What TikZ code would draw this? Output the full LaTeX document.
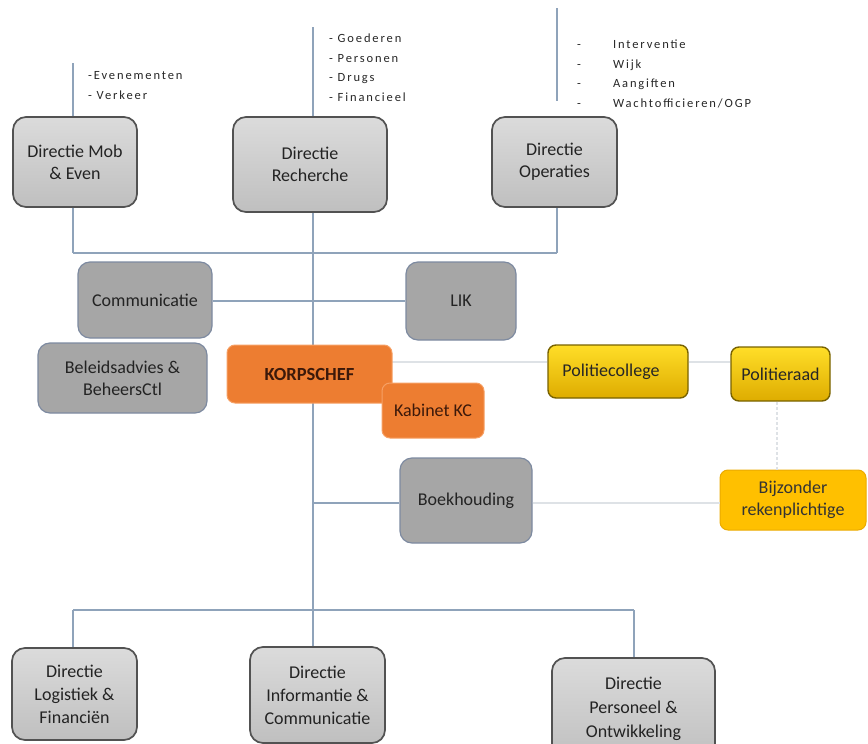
\documentclass[tikz,border=0pt]{standalone}
\usepackage{fontspec}
\setmainfont{Carlito}
\newfontfamily\listfont[LetterSpace=15]{Carlito}
\definecolor{conn}{RGB}{143,163,186}
\definecolor{lightconn}{RGB}{222,226,230}
\definecolor{graybox}{RGB}{166,166,166}
\definecolor{grayborder}{RGB}{125,138,160}
\definecolor{orangebox}{RGB}{237,125,49}
\definecolor{orangeborder}{RGB}{246,160,100}
\definecolor{orangetext}{RGB}{60,25,10}
\definecolor{yellowtop}{RGB}{255,222,40}
\definecolor{yellowbot}{RGB}{222,172,0}
\definecolor{yellowborder}{RGB}{120,98,0}
\definecolor{ambbox}{RGB}{255,192,0}
\definecolor{ambborder}{RGB}{235,170,0}
\definecolor{darktext}{RGB}{35,35,35}
\tikzset{
  base/.style={align=center, inner sep=0pt, text=darktext,
    font=\fontsize{18}{22}\selectfont},
  dirbox/.style={base, rounded corners=13pt, draw=black!68, line width=1.7pt,
    top color=gray!28, middle color=gray!3, bottom color=gray!50},
  graynode/.style={base, rounded corners=12pt, draw=grayborder, line width=1.2pt,
    fill=graybox},
  orangenode/.style={base, rounded corners=8pt, draw=orangeborder, line width=1pt,
    fill=orangebox, text=orangetext},
  yellownode/.style={base, rounded corners=8pt, draw=yellowborder, line width=1.4pt,
    top color=yellowtop, bottom color=yellowbot, text=black!85},
  ambnode/.style={base, rounded corners=8pt, draw=ambborder, line width=1pt,
    fill=ambbox, text=black!80},
  listtext/.style={anchor=north west, align=left, inner sep=0pt,
    font=\listfont\fontsize{12.5}{19.5}\selectfont, text=black!85},
  conline/.style={draw=conn, line width=1.3pt},
  lightline/.style={draw=lightconn, line width=1.3pt},
  dotline/.style={draw=lightconn, line width=1.3pt, dash pattern=on 3pt off 2pt}
}
\begin{document}
\begin{tikzpicture}[x=1pt,y=-1pt]
\useasboundingbox (0,0) rectangle (868,744);
\clip (0,0) rectangle (868,744);
% coordinates
\coordinate (mtop) at (73,63);
\coordinate (rtop) at (313,27);
\coordinate (otop) at (557,8);
\coordinate (obot) at (557,101);
\coordinate (hl) at (73,253);
\coordinate (hr) at (557,253);
\coordinate (hc) at (313,253);
\coordinate (bl) at (73,610);
\coordinate (br) at (634,610);
\coordinate (bc) at (313,610);
\coordinate (kp) at (392,362);
\coordinate (bk) at (313,503);
\coordinate (cl) at (212,301);
% nodes
\node[dirbox, minimum width=124pt, minimum height=90pt] (mob) at (75,162) {Directie Mob\\\& Even};
\node[dirbox, minimum width=154pt, minimum height=95pt] (rech) at (310,164.5) {Directie\\Recherche};
\node[dirbox, minimum width=125pt, minimum height=90pt] (oper) at (554.5,162) {Directie\\Operaties};
% connectors
\draw[conline] (mtop) -- (mtop |- mob.north);
\draw[conline] (rtop) -- (rtop |- rech.north);
\draw[conline] (otop) -- (obot);
\draw[conline] (mob.south -| hl) -- (hl);
\draw[conline] (oper.south -| hr) -- (hr);
\draw[conline] (hl) -- (hr);
\draw[conline] (rech.south -| hc) -- (bc);
\draw[conline] (bl) -- (br);
\node[graynode, minimum width=134pt, minimum height=76pt] (comm) at (145,300) {Communicatie};
\node[graynode, minimum width=110pt, minimum height=78pt] (lik) at (461,301) {LIK};
\draw[conline] (comm.east |- cl) -- (lik.west |- cl);
\node[graynode, minimum width=169pt, minimum height=70pt] (bel) at (122.5,378) {Beleidsadvies \&\\BeheersCtl};
\node[yellownode, minimum width=140pt, minimum height=53pt] (pcol) at (618,371.5) {Politiecollege\hspace*{14pt}};
\node[yellownode, minimum width=99pt, minimum height=54pt] (praad) at (780.5,374) {Politieraad};
\node[ambnode, minimum width=146pt, minimum height=60pt] (bijz) at (793,500) {Bijzonder\\rekenplichtige};
\node[graynode, minimum width=132pt, minimum height=85pt] (boek) at (466,500.5) {Boekhouding};
\draw[lightline] (kp) -- (kp -| pcol.west);
\draw[lightline] (pcol.east |- kp) -- (praad.west |- kp);
\draw[dotline] (praad.south -| 777,0) -- (bijz.north -| 777,0);
\draw[conline] (bk) -- (boek.west |- bk);
\draw[lightline] (boek.east |- bk) -- (bijz.west |- bk);
\node[orangenode, minimum width=165pt, minimum height=58pt, font=\bfseries\fontsize{18.5}{22}\selectfont] (korps) at (309.5,374) {KORPSCHEF};
\node[orangenode, minimum width=102pt, minimum height=55pt] (kab) at (433,410.5) {Kabinet KC};
% bottom directies
\node[dirbox, minimum width=125pt, minimum height=92pt, font=\fontsize{18}{23}\selectfont] (log) at (74.5,694) {Directie\\Logistiek \&\\Financiën};
\node[dirbox, minimum width=135pt, minimum height=96pt, font=\fontsize{18}{23}\selectfont] (info) at (317.5,695) {Directie\\Informantie \&\\Communicatie};
\node[dirbox, minimum width=163pt, minimum height=102pt, font=\fontsize{18}{24}\selectfont] (pers) at (633.5,709) {Directie\\Personeel \&\\Ontwikkeling};
\draw[conline] (bl) -- (bl |- log.north);
\draw[conline] (bc) -- (bc |- info.north);
\draw[conline] (br) -- (br |- pers.north);
% lists
\node[listtext] (lmob) at (88,66) {\begin{tabular}{@{}l@{}}-Evenementen\\- Verkeer\end{tabular}};
\node[listtext] (lrech) at (329,29) {\begin{tabular}{@{}l@{}}- Goederen\\- Personen\\- Drugs\\- Financieel\end{tabular}};
\node[listtext] (lop) at (577,35) {\begin{tabular}{@{}l@{\hspace{32pt}}l@{}}-&Interventie\\-&Wijk\\-&Aangiften\\-&Wachtofficieren/OGP\end{tabular}};
\end{tikzpicture}
\end{document}
